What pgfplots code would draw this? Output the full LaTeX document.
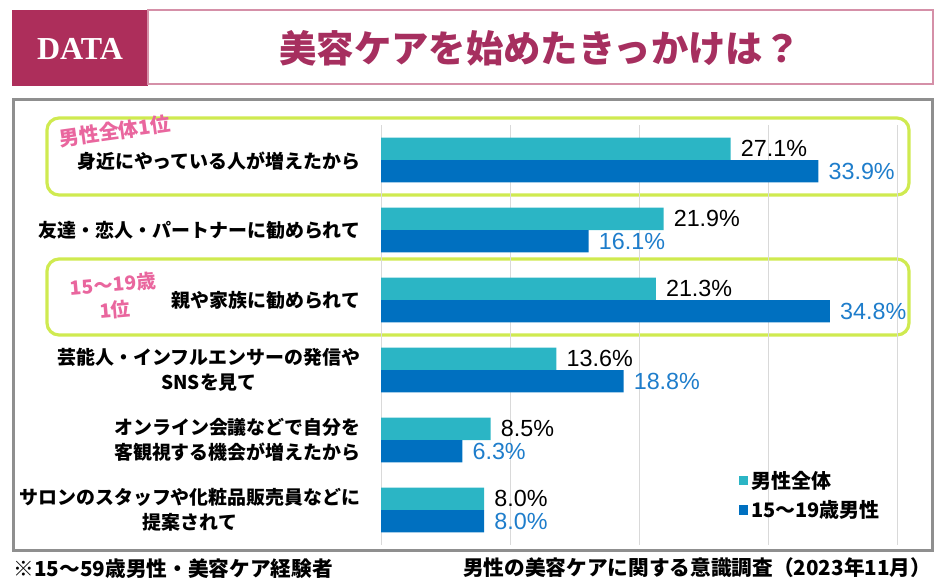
\documentclass[border=0pt]{standalone}
\usepackage{pgfplots}
\pgfplotsset{compat=1.18}
\usepackage{fontspec}
\setmainfont{Liberation Sans}
\newfontfamily\jp{Noto Sans CJK JP}
\newfontfamily\dataf{Liberation Serif}
\definecolor{cTeal}{HTML}{2BB5C5}
\definecolor{cBlue}{HTML}{0070C0}
\definecolor{cBlueTxt}{HTML}{1E7DCB}
\definecolor{cMag}{HTML}{AD2E5B}
\definecolor{cTitle}{HTML}{A62F5F}
\definecolor{cTitleBox}{HTML}{D590A8}
\definecolor{cGreen}{HTML}{CFEA50}
\definecolor{cPink}{HTML}{E9669E}
\definecolor{cFrame}{HTML}{8F8F8F}
\definecolor{cGrid}{HTML}{D9D9D9}
\begin{document}
\begin{tikzpicture}[x=0.75pt,y=0.75pt]
% header
\fill[cMag] (12,-10) rectangle (148,-86);
\draw[cTitleBox,line width=1.5pt] (148,-10) rectangle (933,-84);
\node[text=white,font=\dataf\bfseries\fontsize{24}{28}\selectfont] at (80,-49) {DATA};
\node[text=cTitle,font=\jp\bfseries\fontsize{28}{32}\selectfont] at (540,-48) {美容ケアを始めたきっかけは？};
% outer frame
\draw[cFrame,line width=2.25pt] (13,-99) rectangle (932,-550);
% green boxes
\draw[cGreen,line width=2.4pt,rounded corners=9pt] (47,-118) rectangle (909,-195);
\draw[cGreen,line width=2.4pt,rounded corners=9pt] (47,-259) rectangle (909,-335);
% axis
\begin{axis}[
  at={(285.75pt,-408.75pt)}, anchor=south west,
  width=387pt, height=315pt, scale only axis,
  xmin=0, xmax=40, ymin=0.5, ymax=6.5, y dir=reverse,
  axis line style={draw=none}, tick style={draw=none},
  xtick={0,10,20,30,40}, xticklabel=\empty, ytick=\empty,
  xmajorgrids, major grid style={cGrid,line width=0.75pt},
  clip=false,
  point meta=x,
  /pgf/number format/assume math mode=true,
  nodes near coords={\pgfmathprintnumber[fixed,fixed zerofill,precision=1,assume math mode=true]{\pgfplotspointmeta}\%},
  nodes near coords style={font=\fontsize{17.5}{20}\selectfont, inner sep=0pt, xshift=7.5pt, anchor=west},
  legend style={at={(0.685,0.19)}, anchor=north west, draw=none, fill=none,
    font=\jp\bfseries\fontsize{15}{18}\selectfont, row sep=4pt,
    legend cell align=left},
  legend image code/.code={\fill[#1] (0pt,-3.6pt) rectangle (7.2pt,3.6pt);},
]
\addplot[xbar, bar width=0.32, bar shift=0, fill=cTeal, draw=none,
  nodes near coords style={text=black}]
  coordinates {(27.1,0.84) (21.9,1.84) (21.3,2.84) (13.6,3.84) (8.5,4.84) (8.0,5.84)};
\addlegendentry{男性全体}
\addplot[xbar, bar width=0.32, bar shift=0, fill=cBlue, draw=none,
  nodes near coords style={text=cBlueTxt}]
  coordinates {(33.9,1.16) (16.1,2.16) (34.8,3.16) (18.8,4.16) (6.3,5.16) (8.0,6.16)};
\addlegendentry{15〜19歳男性}
\end{axis}
% category labels
\begin{scope}[every node/.style={anchor=east, align=center, font=\jp\bfseries\fontsize{14.2}{19}\selectfont}]
\node at (365,-161) {身近にやっている人が増えたから};
\node at (365,-230) {友達・恋人・パートナーに勧められて};
\node at (365,-300) {親や家族に勧められて};
\node at (365,-370) {芸能人・インフルエンサーの発信や\\SNSを見て};
\node at (365,-440) {オンライン会議などで自分を\\客観視する機会が増えたから};
\node at (365,-510) {サロンのスタッフや化粧品販売員などに\\提案されて};
\end{scope}
% pink annotations
\node[text=cPink,font=\jp\bfseries\fontsize{15}{18}\selectfont,rotate=8,inner sep=0pt] at (115,-131) {男性全体1位};
\node[text=cPink,font=\jp\bfseries\fontsize{14.5}{17}\selectfont,rotate=5] at (113,-284) {15〜19歳};
\node[text=cPink,font=\jp\bfseries\fontsize{14.5}{17}\selectfont,rotate=5] at (115,-310) {1位};
% footnotes
\node[anchor=west,font=\jp\bfseries\fontsize{15.5}{18}\selectfont] at (9,-569) {※15〜59歳男性・美容ケア経験者};
\node[anchor=east,font=\jp\bfseries\fontsize{15.5}{18}\selectfont] at (936,-568) {男性の美容ケアに関する意識調査（2023年11月）};
\pgfresetboundingbox
\useasboundingbox (0,0) rectangle (941,-583);
\end{tikzpicture}
\end{document}
